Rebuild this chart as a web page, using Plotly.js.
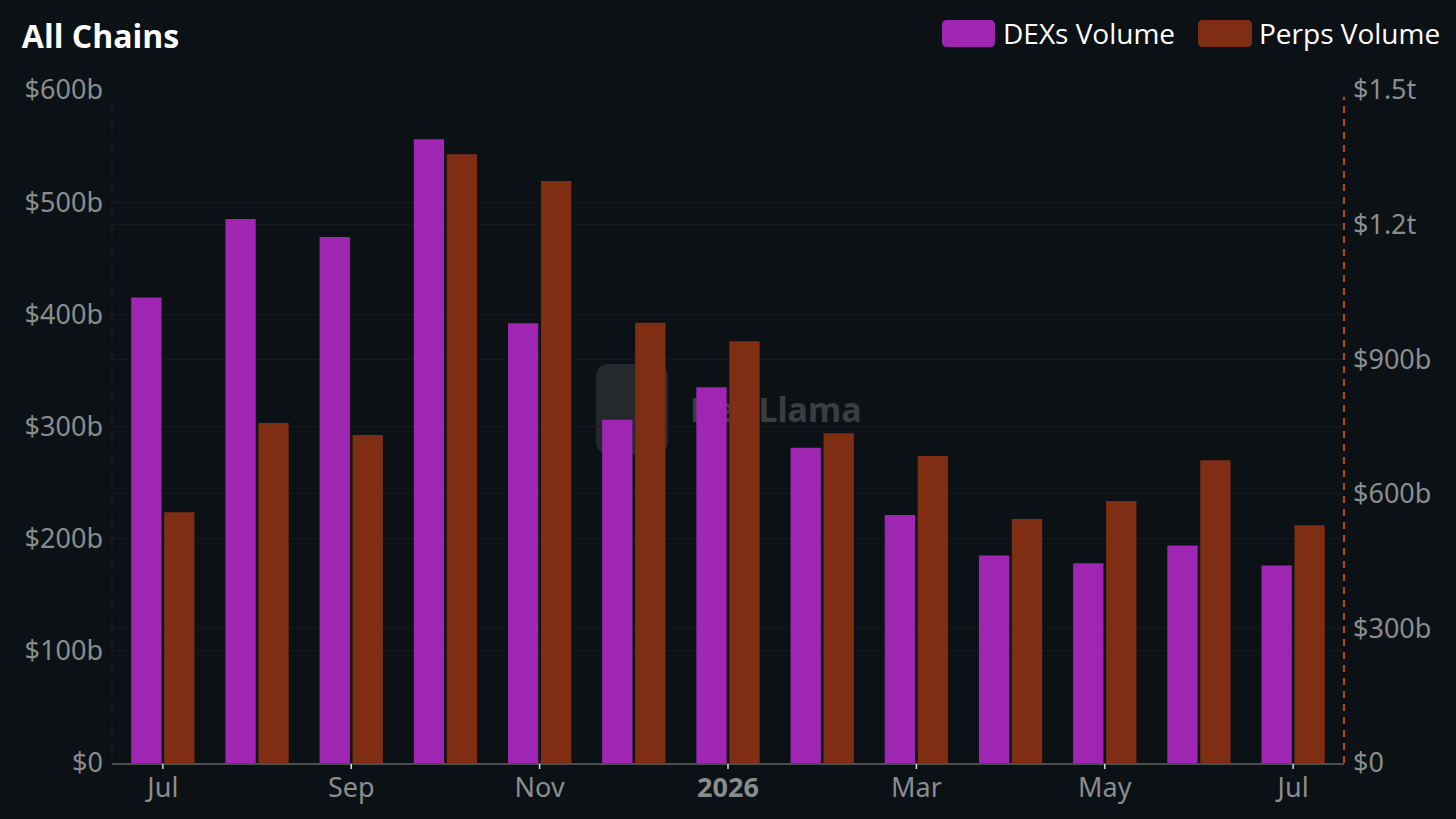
<!DOCTYPE html>
<html>
<head>
<meta charset="utf-8">
<script src="https://cdn.plot.ly/plotly-3.0.1.min.js"></script>
<style>
  html, body { margin:0; padding:0; background:#0b1114; width:1456px; height:819px; overflow:hidden; }
  #wm { position:absolute; left:596px; top:364px; width:280px; height:92px; z-index:0; }
  #wm .icon { position:absolute; left:0; top:0; width:72px; height:90px; border-radius:12px; background:#25292c; }
  #wm .txt { position:absolute; left:94px; top:22px; font-family:'Noto Sans',sans-serif; font-weight:700; font-size:34px; color:#3a3e41; }
  #chart { position:absolute; left:0; top:0; width:1456px; height:819px; z-index:1; }
</style>
</head>
<body>
<div id="wm"><div class="icon"></div><div class="txt">DefiLlama</div></div>
<div id="chart"></div>
<script>
const months = ['2025-07','2025-08','2025-09','2025-10','2025-11','2025-12','2026-01','2026-02','2026-03','2026-04','2026-05','2026-06','2026-07'];
const tickPositions = [0, 2, 4, 6, 8, 10, 12];
const tickLabels = ['Jul','Sep','Nov','<b>2026</b>','Mar','May','Jul'];
const dexVolume = [415, 485, 469, 556, 392, 306, 335, 281, 221, 185, 178, 194, 176];      // $b, left axis
const perpsVolume = [559, 758, 731, 1357, 1297, 981, 940, 735, 684, 544, 584, 675, 530]; // $b, right axis

const leftTicks = [0,100,200,300,400,500,600];
const leftTickText = ['$0','$100b','$200b','$300b','$400b','$500b','$600b'];
const rightTicks = [0,300,600,900,1200,1500];
const rightTickText = ['$0','$300b','$600b','$900b','$1.2t','$1.5t'];

const DEX_COLOR = '#9e26b2';
const PERP_COLOR = '#7f2e14';
const FONT = "'Noto Sans', 'Open Sans', sans-serif";
const TICK_FONT = {family:FONT, size:27, color:'#8a8d90'};

const idx = months.map((m,i)=>i);

const traces = [
  { type:'bar', name:'DEXs Volume', x: idx, y: dexVolume, yaxis:'y', offsetgroup:'a',
    marker:{color:DEX_COLOR, line:{width:0}}, hoverinfo:'skip' },
  { type:'bar', name:'Perps Volume', x: idx, y: perpsVolume, yaxis:'y2', offsetgroup:'b',
    marker:{color:PERP_COLOR, line:{width:0}}, hoverinfo:'skip' }
];

function roundRect(x0, y0, x1, y1, r) {
  return `M${x0+r},${y0} L${x1-r},${y0} Q${x1},${y0} ${x1},${y0+r} L${x1},${y1-r} Q${x1},${y1} ${x1-r},${y1} L${x0+r},${y1} Q${x0},${y1} ${x0},${y1-r} L${x0},${y0+r} Q${x0},${y0} ${x0+r},${y0} Z`;
}

const tickShapes = tickPositions.map(p => ({
  type:'line', xref:'x', yref:'paper', ysizemode:'pixel', yanchor:0,
  x0:p, x1:p, y0:-1, y1:-6, line:{color:'#d8d8d8', width:1.5}, layer:'above'
}));

const layout = {
  width:1456, height:819,
  paper_bgcolor:'rgba(0,0,0,0)', plot_bgcolor:'rgba(0,0,0,0)',
  margin:{l:112, r:112, t:90, b:56},
  barmode:'group', bargap:0.3, bargroupgap:0.08,
  showlegend:false,
  font:{family:FONT, color:'#8a8d90', size:27},
  title:{text:'<b>All Chains</b>', x:0.015, xanchor:'left', y:0.955, yanchor:'middle',
         font:{family:"'Open Sans', sans-serif", size:32, color:'#ffffff'}},
  xaxis:{ range:[-0.54, 12.54], tickmode:'array', tickvals: tickPositions, ticktext: tickLabels,
          showgrid:false, zeroline:false, showline:true, linecolor:'#4a4e51', linewidth:2,
          ticks:'', tickfont:TICK_FONT, fixedrange:true },
  yaxis:{ range:[0,600], tickmode:'array', tickvals:leftTicks, ticktext:leftTickText,
          showgrid:true, gridcolor:'#141a1d', gridwidth:1, zeroline:false,
          showline:false, ticks:'', ticklabelstandoff:8,
          tickfont:TICK_FONT, fixedrange:true },
  yaxis2:{ range:[0,1500], overlaying:'y', side:'right', tickmode:'array',
          tickvals:rightTicks, ticktext:rightTickText,
          showgrid:true, gridcolor:'#131a1c', gridwidth:1, zeroline:false,
          showline:false, ticks:'', ticklabelstandoff:8,
          tickfont:TICK_FONT, fixedrange:true },
  shapes:[
    {type:'line', xref:'paper', yref:'paper', x0:1, x1:1, y0:0, y1:0.99,
     line:{color:'#b0461a', width:2.2, dash:'7px,6px'}, layer:'above'},
    {type:'line', xref:'paper', yref:'paper', x0:0, x1:0, y0:0, y1:0.99,
     line:{color:'#221a28', width:1.5, dash:'7px,6px'}, layer:'below'},
    {type:'path', xref:'paper', yref:'paper', xanchor:0, yanchor:1, xsizemode:'pixel', ysizemode:'pixel',
     path: roundRect(830, 43, 883, 70, 5), fillcolor:DEX_COLOR, line:{width:0}},
    {type:'path', xref:'paper', yref:'paper', xanchor:0, yanchor:1, xsizemode:'pixel', ysizemode:'pixel',
     path: roundRect(1086, 43, 1140, 70, 5), fillcolor:PERP_COLOR, line:{width:0}}
  ].concat(tickShapes),
  annotations:[
    {text:'DEXs Volume', xref:'paper', yref:'paper', x:(1001-112)/1232, y:1+(90-33)/673,
     xanchor:'left', yanchor:'middle', showarrow:false,
     font:{family:"'Open Sans', sans-serif", size:28, color:'#ffffff'}},
    {text:'Perps Volume', xref:'paper', yref:'paper', x:(1257-112)/1232, y:1+(90-33)/673,
     xanchor:'left', yanchor:'middle', showarrow:false,
     font:{family:"'Open Sans', sans-serif", size:28, color:'#ffffff'}}
  ]
};

Plotly.newPlot('chart', traces, layout, {displayModeBar:false, staticPlot:true});
</script>
</body>
</html>
